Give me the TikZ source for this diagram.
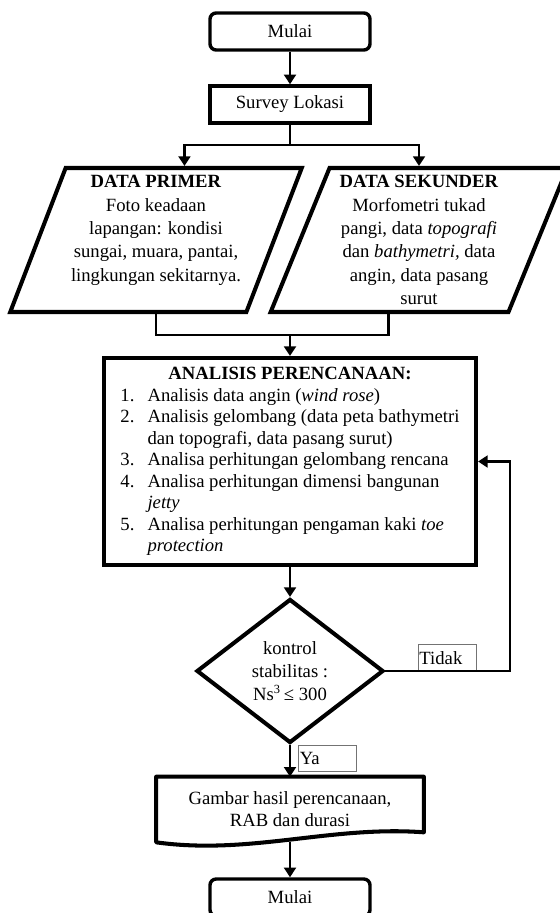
\documentclass[tikz,border=0pt]{standalone}
\usepackage{fontspec}
\setmainfont{Liberation Serif}
\usepackage{tikz}
\usetikzlibrary{arrows.meta,positioning,calc,shapes.geometric}
\tikzset{
  mulaibox/.style={draw=black, rounded corners=4pt, line width=2.2pt, align=center, inner sep=0pt, minimum width=102.9pt, minimum height=23.8pt, font=\fontsize{12}{14}\selectfont},
  prosesbox/.style={draw=black, line width=2.2pt, align=center, inner sep=0pt, font=\fontsize{12}{14}\selectfont},
  databox/.style={draw=black, trapezium, trapezium stretches=true, trapezium left angle=68, trapezium right angle=112, line width=2.6pt, align=center, inner sep=0pt, minimum height=92.6pt, font=\fontsize{12}{15}\selectfont},
  keputusan/.style={draw=black, diamond, line width=2.6pt, align=center, inner sep=0pt, minimum width=120.2pt, minimum height=92.6pt, font=\fontsize{12}{14.8}\selectfont},
  dokumen/.style={align=center, inner sep=0pt, minimum width=171.7pt, minimum height=41.8pt, font=\fontsize{12}{14.1}\selectfont},
  labelbox/.style={draw=black!55, line width=0.5pt, align=left, inner xsep=1pt, inner ysep=0pt, minimum height=16.7pt, font=\fontsize{12}{14}\selectfont},
  arrow/.style={-{Triangle[length=6.2pt,width=7.6pt]}, line width=1.9pt},
  garis/.style={line width=1.9pt}
}

\begin{document}
\begin{tikzpicture}[x=0.643pt,y=-0.643pt]
\useasboundingbox (0,0) rectangle (559,913);

\node[mulaibox] (mulai) at (290,31.5) {Mulai};
\node[prosesbox, minimum width=102.9pt, minimum height=23.8pt] (survei) at (290,104.5) {Survey Lokasi};

\node[databox, minimum width=187.8pt] (primer) at (156,240)
  {\textbf{DATA PRIMER}\\Foto keadaan\\lapangan: kondisi\\sungai, muara, pantai,\\lingkungan sekitarnya.\\ \mbox{}};
\node[databox, minimum width=191pt] (sekunder) at (419,240)
  {\textbf{DATA SEKUNDER}\\Morfometri tukad\\pangi, data \textit{topografi}\\dan \textit{bathymetri,} data\\angin, data pasang\\surut};

\node[prosesbox, line width=2.6pt, minimum width=239.2pt, minimum height=133.1pt, font=\fontsize{12}{13.8}\selectfont] (analisis) at (290,461.5)
  {\begin{tabular}{@{}p{17.4pt}@{}l@{}}
   \multicolumn{2}{@{}c@{}}{\textbf{ANALISIS PERENCANAAN:}}\\
   1. & Analisis data angin (\textit{wind rose})\\
   2. & Analisis gelombang (data peta bathymetri\\
      & dan topografi, data pasang surut)\\
   3. & Analisa perhitungan gelombang rencana\\
   4. & Analisa perhitungan dimensi bangunan\\
      & \textit{jetty}\\
   5. & Analisa perhitungan pengaman kaki \textit{toe}\\
      & \textit{protection}
   \end{tabular}};

\node[keputusan] (kontrol) at (290,671) {kontrol\\stabilitas :\\Ns\textsuperscript{3}\,≤ 300};
\node[labelbox, text width=35.9pt, above right=0pt and 20.6pt of kontrol.east] (tidak) {Tidak};
\node[labelbox, text width=35.3pt, below right=0pt and 5.1pt of kontrol.south] (ya) {Ya};

\node[dokumen] (gambar) at (290,809.5) {Gambar hasil perencanaan,\\RAB dan durasi};
\draw[line width=2.6pt, line join=round] (gambar.south west) -- (gambar.north west) -- (gambar.north east)
  -- ($(gambar.south east)+(0,-10)$)
  .. controls ($(gambar.south east)+(-93,-17)$) and ($(gambar.south west)+(94,13)$) .. (gambar.south west) -- cycle;

\node[mulaibox] (selesai) at (290,897.5) {Mulai};

% connectors
\coordinate (cabang) at (290,145);
\coordinate (gabung) at (290,335);
\coordinate (balik) at (510,671);
\draw[arrow] (mulai) -- (survei);
\draw[garis] (survei) -- (cabang);
\draw[arrow] (cabang) -| (primer.top side);
\draw[arrow] (cabang) -| (sekunder.north);
\draw[garis] (primer.south) |- (gabung) -| (sekunder.bottom side);
\draw[arrow] (gabung) -- (analisis);
\draw[arrow] (analisis) -- (kontrol);
\draw[arrow] (kontrol.east) -- (balik) |- (analisis.east);
\draw[arrow] (kontrol.south) -- (gambar.north);
\draw[arrow] (gambar.south) -- (selesai);
\end{tikzpicture}
\end{document}
